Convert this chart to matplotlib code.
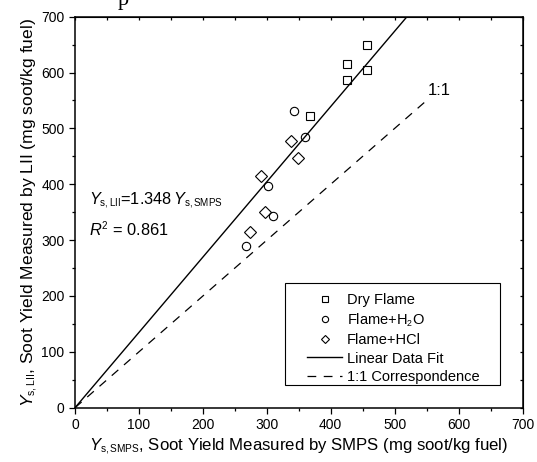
import numpy as np
import matplotlib
matplotlib.use('Agg')
import matplotlib.pyplot as plt
import matplotlib._mathtext as mtext
from matplotlib.ticker import MultipleLocator
from matplotlib.patches import Rectangle

plt.rcParams['font.family'] = ['Liberation Sans', 'DejaVu Sans']
plt.rcParams['mathtext.fontset'] = 'custom'
plt.rcParams['mathtext.rm'] = 'Liberation Sans'
plt.rcParams['mathtext.it'] = 'Liberation Sans:italic'
mtext.SHRINK_FACTOR = 0.6  # smaller subscripts

# soot yields (mg soot/kg fuel): SMPS on x, LII on y
dry_smps = [457, 425, 457, 426, 368]
dry_lii = [649, 616, 605, 587, 523]
h2o_smps = [342, 360, 302, 309, 267]
h2o_lii = [532, 485, 396, 343, 290]
hcl_smps = [338, 349, 291, 297, 273]
hcl_lii = [477, 447, 414, 351, 315]

fit_slope = 1.348
fit_r2 = 0.861
one_to_one_max = 550

fig = plt.figure(figsize=(5.37, 4.62), dpi=100)
ax = fig.add_axes([0.1397, 0.1175, 0.8333, 0.8464])

mk = dict(linestyle='none', markerfacecolor='none', markeredgecolor='black', markeredgewidth=0.8)
ax.plot(dry_smps, dry_lii, marker='s', markersize=5.2, label='Dry Flame', **mk)
ax.plot(h2o_smps, h2o_lii, marker='o', markersize=6, label='Flame+H$_2$O', **mk)
ax.plot(hcl_smps, hcl_lii, marker='D', markersize=5.8, label='Flame+HCl', **mk)

xfit = np.array([0, 700 / fit_slope])
ax.plot(xfit, fit_slope * xfit, color='black', lw=1.0, label='Linear Data Fit')
x11 = np.array([0, one_to_one_max])
ax.plot(x11, x11, color='black', lw=0.9, dashes=(7, 6), label='1:1 Correspondence')

ax.text(551, 568, '1:1', fontsize=12, va='center', ha='left')
ax.text(22, 370, r'$Y_{\mathrm{s,LII}}$=1.348$\,Y_{\mathrm{s,SMPS}}$', fontsize=11.8, va='center')
ax.text(22, 318, r'$R^2$ = %.3f' % fit_r2, fontsize=11.8, va='center')

ax.set_xlim(0, 700)
ax.set_ylim(0, 700)
for axis in (ax.xaxis, ax.yaxis):
    axis.set_major_locator(MultipleLocator(100))
    axis.set_minor_locator(MultipleLocator(50))
ax.tick_params(which='major', direction='out', length=4.5, width=0.9, labelsize=10, pad=3)
ax.tick_params(which='minor', direction='out', length=2.5, width=0.9)
for s in ax.spines.values():
    s.set_linewidth(1.1)

# inward ticks on the top and right edges
top = ax.secondary_xaxis('top')
right = ax.secondary_yaxis('right')
for sec in (top, right):
    sec.tick_params(which='both', direction='in', length=2.5, width=0.9, labelleft=False,
                    labelright=False, labeltop=False, labelbottom=False)
top.xaxis.set_major_locator(MultipleLocator(50))
right.yaxis.set_major_locator(MultipleLocator(50))

ax.set_xlabel(r'$Y_{\mathrm{s,SMPS}}$, Soot Yield Measured by SMPS (mg soot/kg fuel)', fontsize=12.1, labelpad=3)
ax.set_ylabel(r'$Y_{\mathrm{s,LII}}$, Soot Yield Measured by LII (mg soot/kg fuel)', fontsize=12.6, labelpad=1)

# legend box drawn separately so its padding can be wider than the entries need
ax.add_patch(Rectangle((0.469, 0.058), 0.481, 0.261, transform=ax.transAxes, fill=False,
                       edgecolor='black', lw=0.8, zorder=5))
leg = ax.legend(loc='upper left', bbox_to_anchor=(0.503, 0.313), fontsize=10.5, frameon=False,
                handlelength=2.4, handletextpad=0.3, labelspacing=0.31, borderpad=0,
                markerscale=0.75)

# clipped descender of the caption line above the figure
fig.text(118 / 537, 1 - 5 / 462, 'p', family='Liberation Serif', fontsize=16, va='baseline')

fig.savefig('out.png', dpi=100)
